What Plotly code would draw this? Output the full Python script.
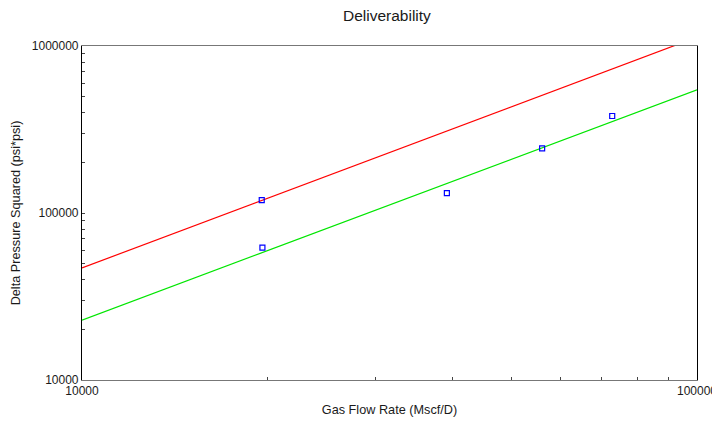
import plotly.graph_objects as go

# Measured data points
flow_rate = [19600, 19650, 39200, 56000, 72800]
delta_p2 = [119500, 62000, 131500, 244000, 381000]

# Deliverability lines (endpoints)
line_x = [10000, 100000]
red_y = [46900, 1130000]
green_y = [22850, 546000]

x_ticks = [10000, 20000, 30000, 40000, 50000, 60000, 70000, 80000, 90000, 100000]
x_text = ["10000", "", "", "", "", "", "", "", "", "100000"]
y_ticks = [10000 * m for m in range(1, 10)] + [100000 * m for m in range(1, 10)] + [1000000]
y_text = [("10000" if v == 10000 else "100000" if v == 100000 else "1000000" if v == 1000000 else "") for v in y_ticks]

fig = go.Figure()
fig.add_trace(go.Scatter(x=line_x, y=red_y, mode="lines",
                         line=dict(color="#ff0000", width=1.2), showlegend=False))
fig.add_trace(go.Scatter(x=line_x, y=green_y, mode="lines",
                         line=dict(color="#00e600", width=1.2), showlegend=False))
fig.add_trace(go.Scatter(x=flow_rate, y=delta_p2, mode="markers",
                         marker=dict(symbol="square-open", size=5, color="#0000ff",
                                     line=dict(width=1.2, color="#0000ff")),
                         showlegend=False))

font = "Liberation Sans, Arial, sans-serif"
# page body adds an 8px margin, so the figure is sized 712x417
fig.update_layout(
    width=712, height=417,
    margin=dict(l=74, r=23, t=38, b=45, autoexpand=False),
    paper_bgcolor="white", plot_bgcolor="white",
    font=dict(family=font, size=12, color="#1a1a1a"),
    title=dict(text="Deliverability", x=0.4958, xanchor="center", xref="paper",
               y=0.983, yanchor="middle",
               font=dict(size=15.5, family=font, color="#1a1a1a")),
    xaxis=dict(type="log", range=[4, 5], tickmode="array", tickvals=x_ticks, ticktext=x_text,
               ticks="inside", ticklen=3, tickcolor="#444444", showgrid=False, zeroline=False,
               showline=True, linecolor="#777777", linewidth=1, mirror=True, automargin=False,
               title=dict(text="Gas Flow Rate (Mscf/D)", standoff=7, font=dict(size=12.7)),
               tickfont=dict(size=12)),
    yaxis=dict(type="log", range=[4, 6], tickmode="array", tickvals=y_ticks, ticktext=y_text,
               ticks="inside", ticklen=3, tickcolor="#444444", showgrid=False, zeroline=False,
               showline=True, linecolor="#000000", linewidth=1.2, mirror=True, automargin=False,
               title=dict(text="Delta Pressure Squared (psi*psi)", standoff=8, font=dict(size=12.7)),
               tickfont=dict(size=12)),
)
fig.write_html("out.html")
